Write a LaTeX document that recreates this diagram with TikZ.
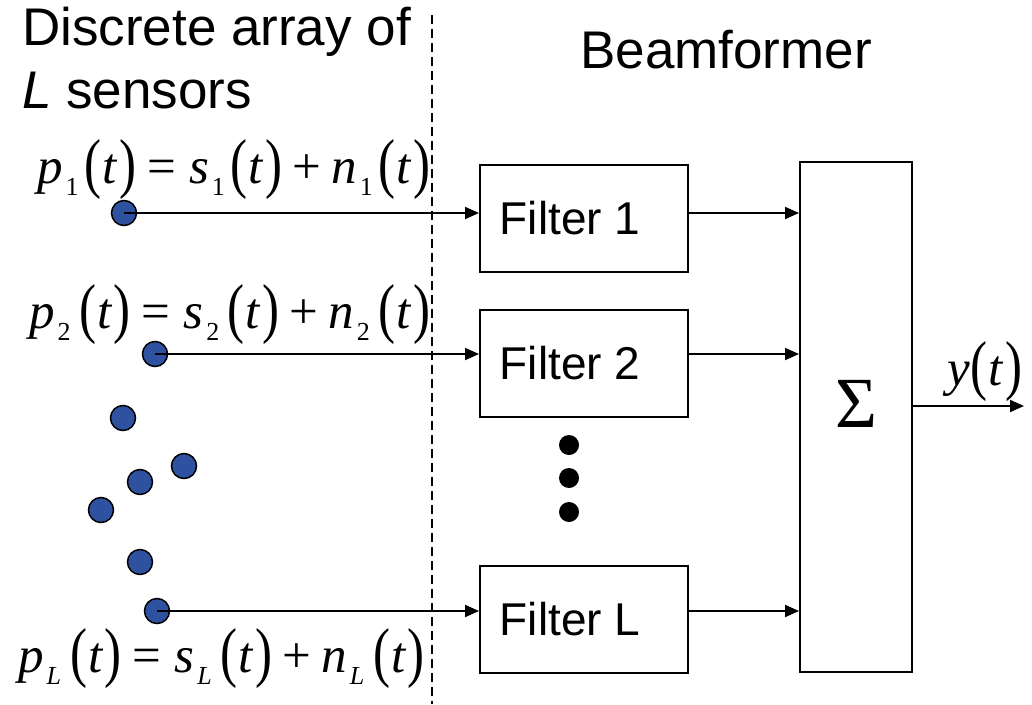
\documentclass[tikz,border=0pt]{standalone}
\usepackage{fontspec}
\usepackage{graphicx}
\setmainfont{Liberation Sans}
\newfontfamily\tnr{Liberation Serif}
\usetikzlibrary{arrows.meta}
\definecolor{sensorblue}{RGB}{47,82,160}

\newcommand\lpar{\raisebox{-2pt}{\scalebox{1}[1.3]{(}}\hspace{1pt}}
\newcommand\rpar{\hspace{1.5pt}\raisebox{-2pt}{\scalebox{1}[1.3]{)}}}
\newcommand\subs[2]{\hspace{3pt}\raisebox{-12pt}{\fontsize{26}{26}\selectfont #1}\hspace{#2}}
\newcommand\sig[3]{\textit{#1}\subs{#2}{#3}\lpar\textit{t}\rpar}
\newcommand\sensoreq[2]{{\tnr\fontsize{51}{51}\selectfont\sig{p}{#1}{#2}\hspace{11pt}=\hspace{13pt}\sig{s}{#1}{#2}\hspace{10pt}+\hspace{10pt}\sig{n}{#1}{#2}}}

\tikzset{
  sensor/.style={circle, draw=black, line width=1.5pt, fill=sensorblue, minimum size=25pt, inner sep=0pt},
  dotmark/.style={circle, fill=black, minimum size=20pt, inner sep=0pt},
  filterbox/.style={rectangle, draw=black, line width=2pt, minimum width=208pt, minimum height=107pt, font=\fontsize{46}{46}\selectfont},
  sumbox/.style={rectangle, draw=black, line width=2pt, minimum width=112pt, minimum height=510pt},
  arrowline/.style={line width=2pt, -{Triangle[length=14pt,width=12pt]}},
  eqlabel/.style={anchor=base west, inner sep=0pt},
  heading/.style={anchor=base west, inner sep=0pt, font=\fontsize{53}{63}\selectfont},
  divider/.style={line width=2.2pt, dash pattern=on 9pt off 5pt}
}

\begin{document}
\begin{tikzpicture}[x=1pt, y=-1pt]
\useasboundingbox (0,0) rectangle (1032,704);

% headings
\node[heading] (h1) at (22,45) {Discrete array of};
\node[heading] (h2) at (22,108) {\textit{L} sensors};
\node[heading] (h3) at (580,68) {Beamformer};

% divider
\coordinate (dtop) at (432,15);
\coordinate (dbot) at (432,704);
\draw[divider] (dtop) -- (dbot);

% equations
\node[eqlabel] (e1) at (37,183) {\sensoreq{1}{6pt}};
\node[eqlabel] (e2) at (29,328) {\sensoreq{2}{8.5pt}};
\node[eqlabel] (eL) at (18,672) {\sensoreq{\textit{L}}{9pt}};

% sensors
\node[sensor] (s1) at (124,213) {};
\node[sensor] (s2) at (155,354) {};
\node[sensor] (s3) at (123,418) {};
\node[sensor] (s4) at (184,466) {};
\node[sensor] (s5) at (140,482) {};
\node[sensor] (s6) at (101,510) {};
\node[sensor] (s7) at (140,562) {};
\node[sensor] (sL) at (157,611) {};

% filters
\node[filterbox] (f1) at (584,218.5) {Filter 1\hspace*{28pt}};
\node[filterbox] (f2) at (584,363.5) {Filter 2\hspace*{28pt}};
\node[filterbox] (fL) at (584,619.5) {Filter L\hspace*{28pt}};

% dots
\node[dotmark] (d1) at (569,445) {};
\node[dotmark] (d2) at (569,478) {};
\node[dotmark] (d3) at (569,512) {};

% sum
\node[sumbox] (sum) at (856,417) {};
\node[inner sep=0pt, font=\tnr\fontsize{72}{72}\selectfont] (sigma) at (856,404) {Σ};

% connectors
\draw[arrowline] (s1.center) -- (f1.west |- s1.center);
\draw[arrowline] (s2.center) -- (f2.west |- s2.center);
\draw[arrowline] (sL.center) -- (fL.west |- sL.center);
\draw[arrowline] (f1.east |- s1.center) -- (sum.west |- s1.center);
\draw[arrowline] (f2.east |- s2.center) -- (sum.west |- s2.center);
\draw[arrowline] (fL.east |- sL.center) -- (sum.west |- sL.center);

\coordinate (out) at (1024,406);
\draw[arrowline] (sum.east |- out) -- (out);
\node[inner sep=0pt, font=\tnr\fontsize{51}{51}\selectfont] (ylabel) at (985,372) {\textit{y}\lpar\textit{t}\rpar};
\end{tikzpicture}
\end{document}
